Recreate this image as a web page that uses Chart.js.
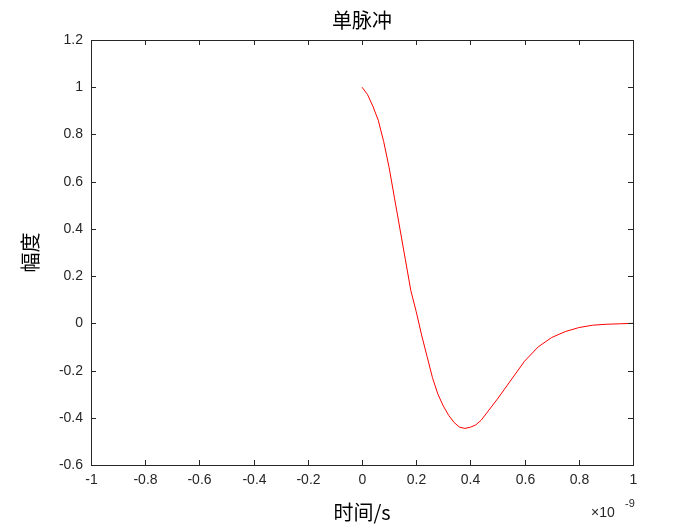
<!DOCTYPE html>
<html>
<head>
<meta charset="utf-8">
<script src="https://cdn.jsdelivr.net/npm/chart.js@4"></script>
<style>
  html, body { margin: 0; padding: 0; background: #fff; }
  #wrap { width: 700px; height: 525px; }
</style>
</head>
<body>
<div id="wrap"><canvas id="pulseChart"></canvas></div>
<script>
const timeValues = [0, 0.02, 0.04, 0.06, 0.08, 0.1, 0.12, 0.14, 0.16, 0.18, 0.2, 0.22, 0.24, 0.26, 0.28, 0.3, 0.32, 0.34, 0.36, 0.38, 0.4, 0.42, 0.44, 0.46, 0.5, 0.55, 0.6, 0.65, 0.7, 0.75, 0.8, 0.85, 0.9, 0.95, 1.0];
const amplitudeValues = [1, 0.97, 0.92, 0.86, 0.77, 0.66, 0.53, 0.4, 0.27, 0.14, 0.05, -0.05, -0.14, -0.23, -0.3, -0.35, -0.39, -0.42, -0.44, -0.445, -0.44, -0.43, -0.41, -0.38, -0.32, -0.24, -0.16, -0.1, -0.06, -0.035, -0.018, -0.008, -0.004, -0.002, 0];
const xTicks = [-1, -0.8, -0.6, -0.4, -0.2, 0, 0.2, 0.4, 0.6, 0.8, 1];
const yTicks = [-0.6, -0.4, -0.2, 0, 0.2, 0.4, 0.6, 0.8, 1, 1.2];

const tickFont = "14px 'Liberation Sans', Arial, sans-serif";
const cjkFont = "'Noto Sans CJK SC', sans-serif";

const matlabAxes = {
  id: "matlabAxes",
  afterDraw(chart) {
    const { ctx, chartArea: a, scales } = chart;
    const xs = scales.x, ys = scales.y;
    ctx.save();
    ctx.strokeStyle = "#262626";
    ctx.lineWidth = 1;
    ctx.strokeRect(a.left + 0.5, a.top + 0.5, a.right - a.left, a.bottom - a.top);
    ctx.fillStyle = "#262626";
    ctx.font = tickFont;
    ctx.textAlign = "center";
    ctx.textBaseline = "top";
    xTicks.forEach((t) => {
      const px = Math.round(xs.getPixelForValue(t)) + 0.5;
      ctx.beginPath();
      ctx.moveTo(px, a.bottom); ctx.lineTo(px, a.bottom - 5);
      ctx.moveTo(px, a.top); ctx.lineTo(px, a.top + 5);
      ctx.stroke();
      ctx.fillText(String(t), px, a.bottom + 8);
    });
    ctx.textAlign = "right";
    ctx.textBaseline = "middle";
    yTicks.forEach((t) => {
      const py = Math.round(ys.getPixelForValue(t)) + 0.5;
      ctx.beginPath();
      ctx.moveTo(a.left, py); ctx.lineTo(a.left + 5, py);
      ctx.moveTo(a.right, py); ctx.lineTo(a.right - 5, py);
      ctx.stroke();
      ctx.fillText(String(t), a.left - 8, py);
    });
    // exponent label
    ctx.textAlign = "left";
    ctx.textBaseline = "alphabetic";
    ctx.fillText("×10", a.right - 42, a.bottom + 52);
    ctx.font = "11px 'Liberation Sans', Arial, sans-serif";
    ctx.fillText("-9", a.right - 8, a.bottom + 42);
    // titles
    ctx.fillStyle = "#000";
    ctx.textAlign = "center";
    ctx.font = "20px " + cjkFont;
    ctx.fillText("单脉冲", (a.left + a.right) / 2, 28);
    ctx.fillText("时间/s", (a.left + a.right) / 2, 520);
    ctx.translate(38, (a.top + a.bottom) / 2);
    ctx.rotate(-Math.PI / 2);
    ctx.fillText("幅度", 0, 0);
    ctx.restore();
  },
};

new Chart(document.getElementById("pulseChart"), {
  type: "line",
  data: {
    datasets: [
      {
        data: timeValues.map((t, i) => ({ x: t, y: amplitudeValues[i] })),
        borderColor: "#ff0000",
        borderWidth: 1,
        pointRadius: 0,
        tension: 0,
      },
    ],
  },
  options: {
    responsive: true,
    maintainAspectRatio: false,
    animation: false,
    layout: { padding: { left: 91, top: 40, right: 67, bottom: 60 } },
    scales: {
      x: { type: "linear", min: -1, max: 1, display: false },
      y: { min: -0.6, max: 1.2, display: false },
    },
    plugins: { legend: { display: false }, tooltip: { enabled: false } },
  },
  plugins: [matlabAxes],
});
</script>
</body>
</html>
